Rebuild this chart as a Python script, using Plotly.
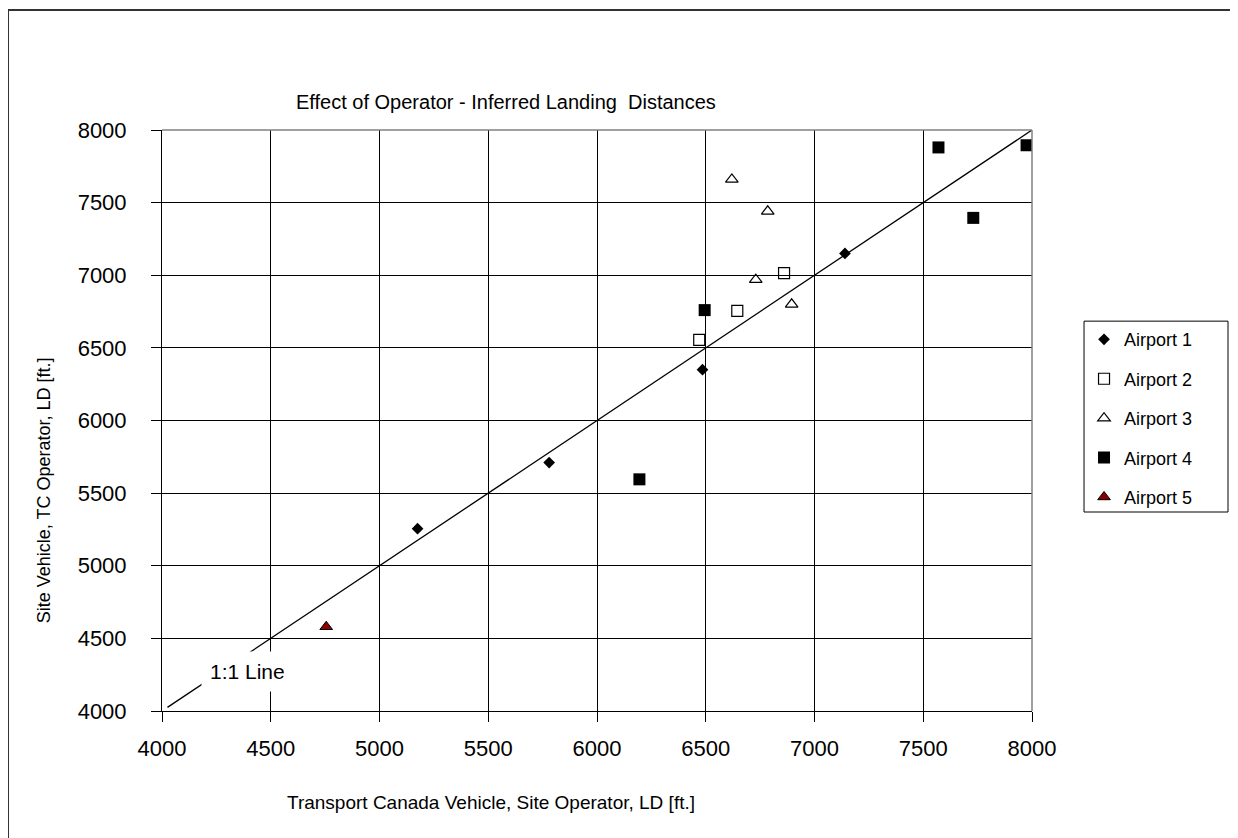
import plotly.graph_objects as go

# Data
a1_x = [5175, 5780, 6485, 7140]
a1_y = [5255, 5710, 6350, 7150]

a2_x = [6470, 6645, 6860]
a2_y = [6555, 6755, 7015]

a3_x = [6620, 6785, 6730, 6895]
a3_y = [7660, 7440, 6970, 6800]

a4_x = [6195, 6495, 7570, 7730, 7975]
a4_y = [5595, 6760, 7880, 7395, 7895]

a5_x = [4755]
a5_y = [4580]

line_x = [4025, 8000]
line_y = [4025, 8000]

x_ticks = [4000, 4500, 5000, 5500, 6000, 6500, 7000, 7500, 8000]
y_ticks = [4000, 4500, 5000, 5500, 6000, 6500, 7000, 7500, 8000]

FONT = "Liberation Sans, Arial, sans-serif"

fig = go.Figure()

fig.add_trace(go.Scatter(x=line_x, y=line_y, mode="lines",
                         line=dict(color="black", width=1.3),
                         showlegend=False, hoverinfo="skip"))

fig.add_trace(go.Scatter(x=a1_x, y=a1_y, mode="markers", name="Airport 1",
                         legendgroup="a1",
                         marker=dict(symbol="diamond", size=9, color="black")))
fig.add_trace(go.Scatter(x=a2_x, y=a2_y, mode="markers", name="Airport 2",
                         legendgroup="a2",
                         marker=dict(symbol="square-open", size=11, color="black",
                                     line=dict(width=1.2, color="black"))))
fig.add_trace(go.Scatter(x=a3_x, y=a3_y, mode="markers", name="Airport 3",
                         legendgroup="a3",
                         marker=dict(symbol="triangle-up-open", size=11, color="black",
                                     line=dict(width=1.2, color="black"))))
fig.add_trace(go.Scatter(x=a4_x, y=a4_y, mode="markers", name="Airport 4",
                         legendgroup="a4",
                         marker=dict(symbol="square", size=12, color="black")))
fig.add_trace(go.Scatter(x=a5_x, y=a5_y, mode="markers", name="Airport 5",
                         legendgroup="a5",
                         marker=dict(symbol="triangle-up", size=11, color="#8B0000",
                                     line=dict(width=1, color="black"))))

fig.update_layout(
    width=1230, height=830,
    margin=dict(l=154, r=206, t=122, b=127),
    paper_bgcolor="white", plot_bgcolor="white",
    font=dict(family=FONT, color="black"),
    showlegend=True,
    legend=dict(x=1.0598, y=0.671, xanchor="left", yanchor="top",
                borderwidth=0, bgcolor="rgba(0,0,0,0)",
                font=dict(size=18, family=FONT), tracegroupgap=13,
                itemsizing="trace"),
    xaxis=dict(range=[4000, 8000], tickvals=x_ticks, ticktext=[str(v) for v in x_ticks],
               showgrid=True, gridcolor="black", gridwidth=1,
               showline=True, linecolor="black", linewidth=1,
               ticks="outside", ticklen=10, tickcolor="black",
               ticklabelstandoff=8,
               tickfont=dict(size=22), zeroline=False, mirror=False),
    yaxis=dict(range=[4000, 8000], tickvals=y_ticks, ticktext=[str(v) for v in y_ticks],
               showgrid=True, gridcolor="black", gridwidth=1,
               showline=True, linecolor="black", linewidth=1,
               ticks="outside", ticklen=10, tickcolor="black",
               ticklabelstandoff=20,
               tickfont=dict(size=22), zeroline=False, mirror=False),
)

# Top and right plot-area border (gray)
fig.add_shape(type="line", xref="paper", yref="paper", x0=0, x1=1, y0=1, y1=1,
              line=dict(color="#808080", width=1.5))
fig.add_shape(type="line", xref="paper", yref="paper", x0=1, x1=1, y0=0, y1=1,
              line=dict(color="#808080", width=1.5))

# Legend frame
fig.add_shape(type="rect", xref="paper", yref="paper",
              x0=1.0598, x1=1.2253, y0=0.3425, y1=0.671,
              line=dict(color="black", width=1), fillcolor="rgba(0,0,0,0)")

# Outer chart border
fig.add_shape(type="rect", xref="paper", yref="paper",
              x0=-0.177, x1=1.2356, y0=-0.23, y1=1.2065,
              line=dict(color="#333333", width=2), fillcolor="rgba(0,0,0,0)", layer="above")

fig.add_annotation(text="Effect of Operator - Inferred Landing  Distances",
                   xref="paper", yref="paper", x=0.395, y=1.048,
                   showarrow=False, font=dict(size=20, family=FONT),
                   xanchor="center", yanchor="middle")
fig.add_annotation(text="Transport Canada Vehicle, Site Operator, LD [ft.]",
                   xref="paper", yref="paper", x=0.378, y=-0.158,
                   showarrow=False, font=dict(size=19, family=FONT),
                   xanchor="center", yanchor="middle")
fig.add_annotation(text="Site Vehicle, TC Operator, LD [ft.]",
                   xref="paper", yref="paper", x=-0.1356, y=0.38,
                   showarrow=False, font=dict(size=18, family=FONT), textangle=-90,
                   xanchor="center", yanchor="middle")
fig.add_annotation(text="1:1 Line", x=4391, y=4275, xref="x", yref="y",
                   showarrow=False, font=dict(size=21, family=FONT),
                   bgcolor="white", borderpad=8,
                   xanchor="center", yanchor="middle")

fig.write_html("out.html")
